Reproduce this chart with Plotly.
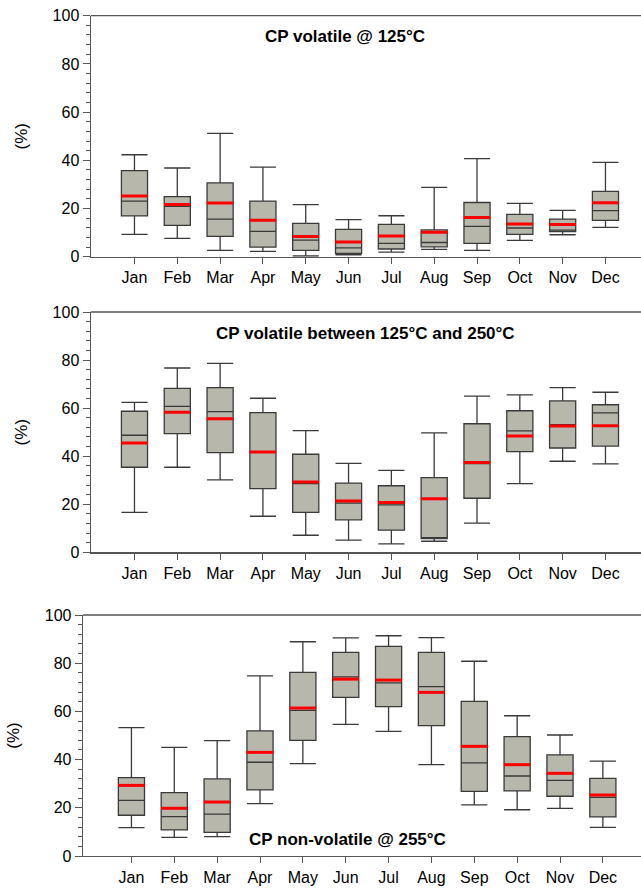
import plotly.graph_objects as go

months = ["Jan", "Feb", "Mar", "Apr", "May", "Jun", "Jul", "Aug", "Sep", "Oct", "Nov", "Dec"]

# Panel 1: CP volatile @ 125°C
p1_low = [9.3, 7.6, 2.6, 2.2, 0.3, 0.8, 1.9, 3.0, 2.6, 6.8, 9.1, 12.2]
p1_q1 = [16.9, 13.0, 8.4, 4.0, 2.6, 1.4, 3.2, 4.1, 5.5, 9.3, 10.4, 15.1]
p1_med = [23.1, 20.9, 15.6, 10.5, 6.9, 3.7, 5.5, 5.9, 12.6, 11.9, 11.0, 19.1]
p1_q3 = [35.7, 24.9, 30.6, 23.1, 13.8, 11.3, 13.4, 11.1, 22.5, 17.6, 15.6, 27.1]
p1_high = [42.3, 36.8, 51.2, 37.2, 21.6, 15.4, 17.0, 28.8, 40.7, 22.1, 19.2, 39.1]
p1_mean = [25.2, 21.7, 22.3, 15.1, 8.4, 6.1, 8.6, 10.1, 16.3, 13.6, 13.4, 22.4]

# Panel 2: CP volatile between 125°C and 250°C
p2_low = [16.6, 35.4, 30.1, 15.0, 7.1, 5.1, 3.5, 4.6, 12.1, 28.6, 37.9, 36.8]
p2_q1 = [35.4, 49.4, 41.5, 26.5, 16.6, 13.5, 9.2, 5.7, 22.5, 41.9, 43.4, 44.2]
p2_med = [48.7, 60.7, 58.5, 41.6, 28.6, 20.5, 19.7, 5.9, 36.9, 50.5, 53.1, 58.0]
p2_q3 = [58.7, 68.2, 68.5, 58.1, 40.8, 28.8, 27.7, 31.1, 53.5, 58.9, 63.0, 61.4]
p2_high = [62.4, 76.7, 78.6, 64.1, 50.6, 37.0, 34.1, 49.7, 65.0, 65.5, 68.5, 66.6]
p2_mean = [45.5, 58.3, 55.6, 41.7, 29.3, 21.4, 20.7, 22.3, 37.4, 48.4, 52.6, 52.7]

# Panel 3: CP non-volatile @ 255°C
p3_low = [11.8, 7.7, 8.0, 21.7, 38.3, 54.6, 51.7, 37.9, 21.2, 19.2, 19.8, 11.9]
p3_q1 = [16.9, 10.8, 9.8, 27.4, 48.0, 65.8, 62.0, 54.1, 26.8, 27.0, 24.8, 16.2]
p3_med = [23.1, 16.3, 17.4, 38.9, 60.4, 74.3, 71.8, 70.3, 38.6, 33.2, 31.4, 24.3]
p3_q3 = [32.5, 26.3, 32.0, 51.9, 76.2, 84.5, 87.0, 84.5, 64.2, 49.5, 42.0, 32.2]
p3_high = [53.3, 45.1, 47.9, 74.7, 88.9, 90.5, 91.4, 90.6, 80.8, 58.2, 50.2, 39.4]
p3_mean = [29.3, 19.8, 22.4, 43.0, 61.4, 73.4, 73.0, 67.9, 45.5, 37.9, 34.3, 25.3]

titles = ["CP volatile @ 125°C", "CP volatile between 125°C and 250°C", "CP non-volatile @ 255°C"]

panels = [
    (p1_low, p1_q1, p1_med, p1_q3, p1_high, p1_mean),
    (p2_low, p2_q1, p2_med, p2_q3, p2_high, p2_mean),
    (p3_low, p3_q1, p3_med, p3_q3, p3_high, p3_mean),
]

W, H = 641, 888


def py(p):
    return 1 - p / H


def px(p):
    return p / W


ydoms = [[py(256.7), py(15.7)], [py(552.3), py(312)], [py(856), py(615)]]
xdoms = [[px(90.8), 1.0], [px(90.8), 1.0], [px(83.0), 1.0]]
xranges = [[-1.02, 11.83], [-1.02, 11.83], [-1.13, 11.89]]
title_pos = [(345, 37), (365, 333), (347, 839)]

FONT = "Arial, Liberation Sans, sans-serif"
AX = "#555555"
BOXW = 0.61
HALF = 0.31

fig = go.Figure()
layout = dict(
    width=W, height=H, margin=dict(l=0, r=0, t=0, b=0, autoexpand=False),
    paper_bgcolor="white", plot_bgcolor="white", showlegend=False,
    font=dict(family=FONT, size=16, color="black"),
    annotations=[], shapes=[],
)

xs = list(range(len(months)))
for k, (lo, q1, med, q3, hi, mean) in enumerate(panels):
    sfx = "" if k == 0 else str(k + 1)
    xa, ya = "x" + sfx, "y" + sfx
    fig.add_trace(go.Box(
        x=xs, q1=q1, median=med, q3=q3, lowerfence=lo, upperfence=hi,
        width=BOXW, whiskerwidth=1, fillcolor="#b7b7ab",
        line=dict(color="#3a3a3a", width=1.3), boxpoints=False,
        xaxis=xa, yaxis=ya, hoverinfo="skip",
    ))
    mx, my = [], []
    for i, m in enumerate(mean):
        mx += [i - HALF, i + HALF, None]
        my += [m, m, None]
    fig.add_trace(go.Scatter(
        x=mx, y=my, mode="lines", line=dict(color="#ff0000", width=3),
        xaxis=xa, yaxis=ya, hoverinfo="skip",
    ))
    layout["xaxis" + sfx] = dict(
        domain=xdoms[k], range=xranges[k], anchor=ya,
        tickmode="array", tickvals=xs, ticktext=months,
        ticks="outside", ticklen=6, tickwidth=1, tickcolor=AX,
        showline=True, linecolor=AX, linewidth=1.3, mirror=False,
        showgrid=False, zeroline=False, automargin=False,
        ticklabeloverflow="allow",
        tickfont=dict(family=FONT, size=16, color="black"),
    )
    layout["yaxis" + sfx] = dict(
        domain=ydoms[k], range=[0, 100], anchor=xa,
        tickmode="array", tickvals=[0, 20, 40, 60, 80, 100],
        ticks="outside", ticklen=7, tickwidth=1, tickcolor=AX,
        minor=dict(ticks="outside", ticklen=4, tickwidth=1, tickcolor=AX, dtick=4, tick0=0),
        showline=True, linecolor=AX, linewidth=1.3, mirror=False,
        showgrid=False, zeroline=False, automargin=False,
        ticklabeloverflow="allow",
        tickfont=dict(family=FONT, size=16, color="black"),
        title=dict(text="(%)", font=dict(family=FONT, size=17, color="black"), standoff=20),
    )
    # top frame line
    layout["shapes"].append(dict(
        type="line", xref=xa + " domain", yref=ya + " domain",
        x0=0, x1=1, y0=1, y1=1, line=dict(color=AX, width=1.3),
    ))
    tx, ty = title_pos[k]
    layout["annotations"].append(dict(
        text="<b>" + titles[k] + "</b>", x=px(tx), y=py(ty),
        xref="paper", yref="paper", showarrow=False,
        xanchor="center", yanchor="middle",
        font=dict(family=FONT, size=17, color="black"),
    ))

fig.update_layout(**layout)
fig.write_html(
    "out.html",
    config={"displayModeBar": False, "staticPlot": True},
    post_script="document.body.style.margin='0';document.body.style.overflow='hidden';",
)
